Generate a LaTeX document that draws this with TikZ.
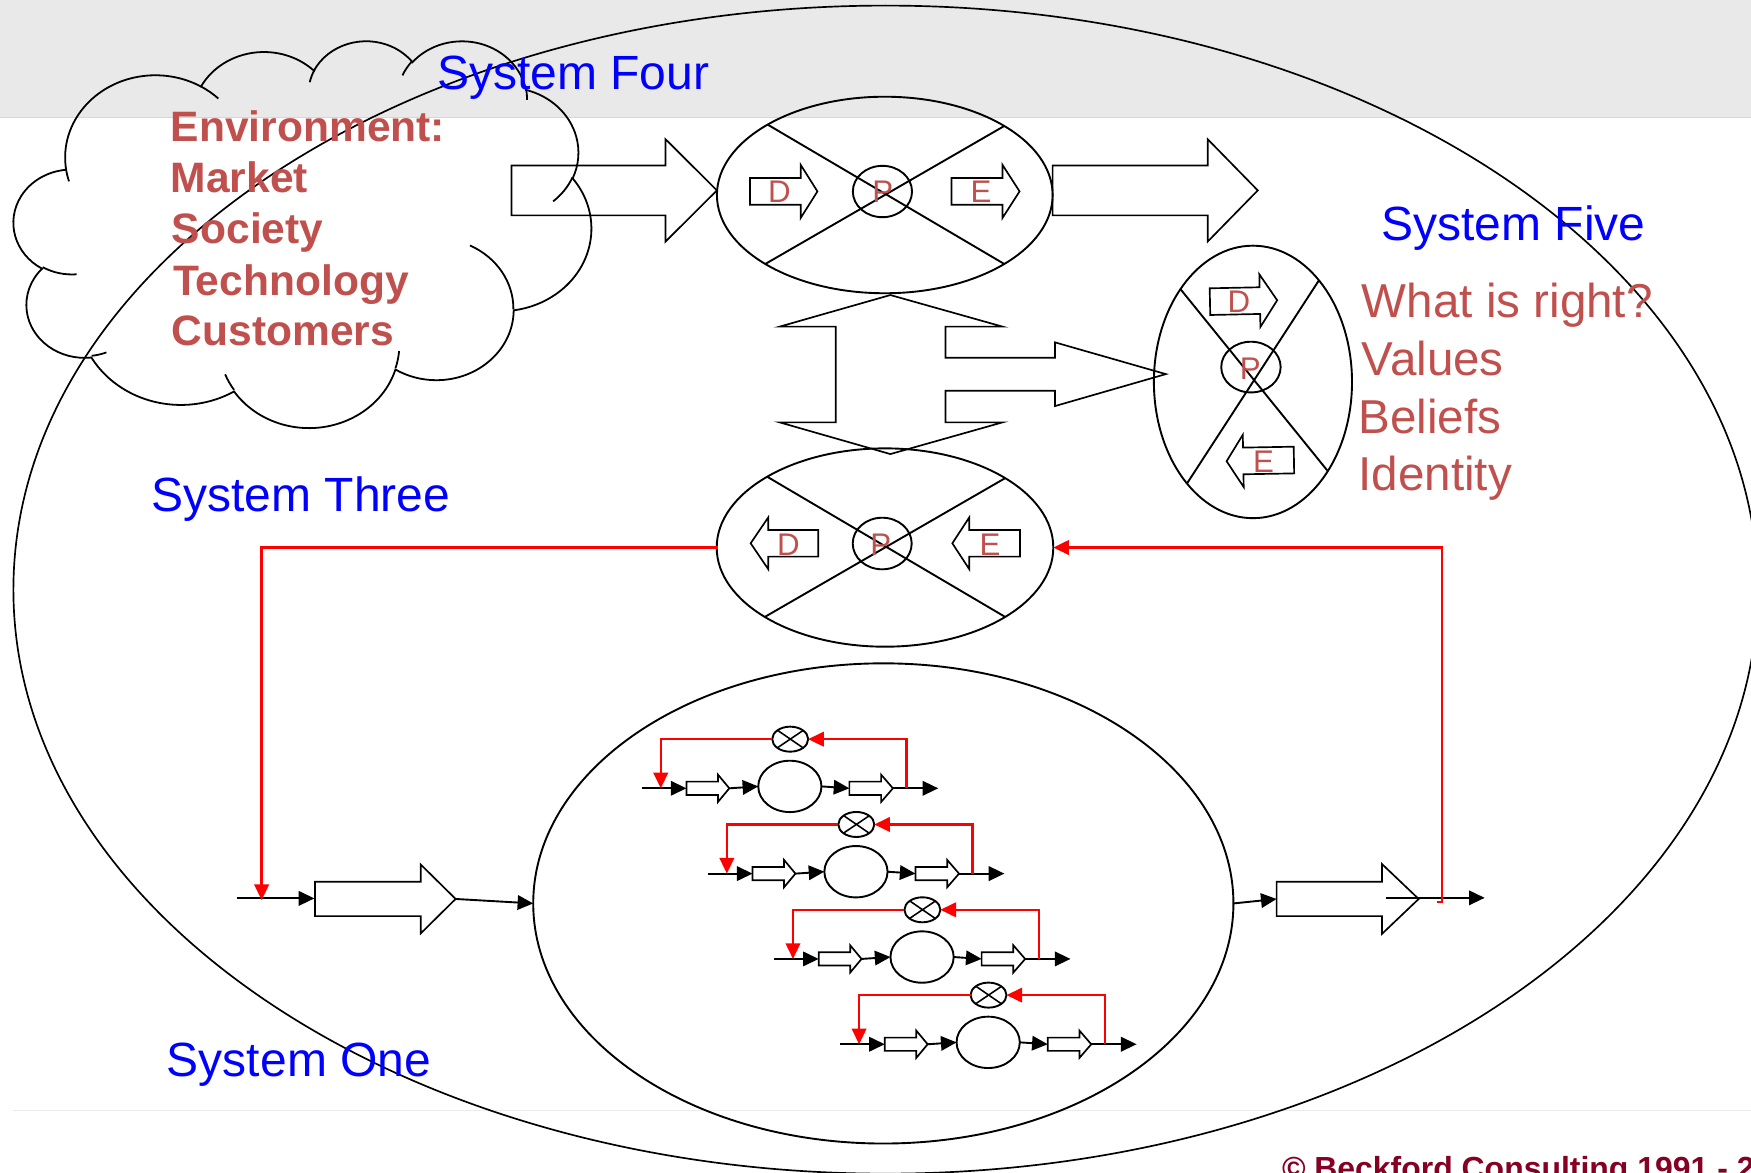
\documentclass[tikz,border=0pt]{standalone}
\usepackage{fontspec}
\setmainfont{Liberation Sans}
\usetikzlibrary{shapes.geometric,arrows.meta}

\definecolor{sysblue}{RGB}{0,0,255}
\definecolor{accent}{RGB}{192,80,77}
\definecolor{loopred}{RGB}{255,0,0}
\definecolor{bandgray}{RGB}{233,233,233}
\definecolor{bandedge}{RGB}{215,215,215}
\definecolor{footgray}{RGB}{236,236,236}
\definecolor{copyred}{RGB}{134,0,36}

% placement of the environment cloud (cloud geometry given on a 432 x 432 grid)
\newcommand\cloudL{12.4}
\newcommand\cloudT{35.8}
\newcommand\cloudW{517}
\newcommand\cloudH{346.3}
\newcommand\cpt[2]{({\cloudL+#1/432*\cloudW},{\cloudT+#2/432*\cloudH})}

% block arrow: [opts] tail x, head-base x, tip x, mid y, body half-height, head half-height
\newcommand\blockarrow[7][]{%
  \draw[blockln,#1] (#2,{#5-#6}) -- (#3,{#5-#6}) -- (#3,{#5-#7}) -- (#4,#5)
    -- (#3,{#5+#7}) -- (#3,{#5+#6}) -- (#2,{#5+#6}) -- cycle;}

\tikzset{
  ln/.style={line width=1.7pt,draw=black},
  blockln/.style={line width=1.5pt,draw=black,line join=miter},
  ell/.style={ellipse,draw=black,line width=1.7pt,inner sep=0pt,outer sep=0pt},
  arw/.style={-{Triangle[length=14pt,width=13pt]}},
  fbline/.style={line width=2.1pt,draw=loopred},
  fbsmall/.style={line width=1.9pt,draw=loopred},
  cloudln/.style={line width=1.6pt,draw=black},
  cloudarc/.style n args={4}{insert path={arc[
      start angle={-atan2(#1*sin(#3),#2*cos(#3))},
      delta angle={-mod(atan2(#1*sin(#3+#4),#2*cos(#3+#4))-atan2(#1*sin(#3),#2*cos(#3))+720,360)},
      x radius={(#1/432*\cloudW)*1pt},
      y radius={(#2/432*\cloudH)*1pt}]}},
  syslabel/.style={inner sep=0pt,outer sep=0pt,anchor=base west,text=sysblue,font=\fontsize{43}{50}\selectfont},
  envtext/.style={inner sep=0pt,outer sep=0pt,anchor=base west,text=accent,font=\bfseries\fontsize{38.1}{45}\selectfont},
  valtext/.style={inner sep=0pt,outer sep=0pt,anchor=base west,text=accent,font=\fontsize{42.6}{50}\selectfont},
  dpe/.style={inner sep=0pt,outer sep=0pt,anchor=base,text=accent,font=\fontsize{28}{32}\selectfont},
  copytext/.style={inner sep=0pt,outer sep=0pt,anchor=base west,text=copyred,font=\bfseries\fontsize{28.6}{34}\selectfont},
}

\begin{document}
\begin{tikzpicture}[x=1pt,y=-1pt]
\useasboundingbox (0,0) rectangle (1568,1050);
\clip (0,0) rectangle (1568,1050);

% header band and footer rule
\fill[bandgray] (0,0) rectangle (1568,105.5);
\draw[bandedge,line width=1pt] (0,105.5) -- (1568,105.5);
\draw[footgray,line width=1.2pt] (11.3,994.6) -- (1568,994.6);

% boundary of the whole system
\node[ell,line width=1.5pt,minimum width=1562pt,minimum height=1046pt] (vsm) at (793,528) {};

% environment cloud
\draw[cloudln] \cpt{39.00}{143.70}
  [cloudarc={67.53}{91.90}{-190.4875}{123.7805}]
  [cloudarc={53.33}{72.67}{-144.1024}{89.9452}]
  [cloudarc={43.65}{59.45}{-145.8079}{99.7230}]
  [cloudarc={48.57}{65.95}{-130.9861}{117.2417}]
  [cloudarc={53.33}{72.73}{-78.7089}{109.0269}]
  [cloudarc={67.75}{92.20}{-46.2673}{130.2690}]
  [cloudarc={57.85}{78.67}{0.6250}{114.0333}]
  [cloudarc={67.52}{92.15}{22.4516}{115.1726}]
  [cloudarc={77.20}{105.43}{66.2426}{75.7110}]
  [cloudarc={43.60}{59.18}{-274.9421}{146.7356}]
  [cloudarc={43.45}{59.45}{-246.8285}{152.5189}]
  -- cycle;
\draw[cloudln]
  \cpt{46.93}{261.77} [cloudarc={43.45}{59.45}{86.7420}{26.4295}]
  \cpt{69.28}{348.99} [cloudarc={43.60}{59.18}{73.6105}{11.4475}]
  \cpt{164.78}{390.90} [cloudarc={67.52}{92.15}{137.6242}{14.0811}]
  \cpt{288.27}{347.51} [cloudarc={67.52}{92.15}{6.4533}{15.9984}]
  \cpt{341.29}{229.54} [cloudarc={57.85}{78.67}{-70.2924}{70.9174}]
  \cpt{417.98}{153.54} [cloudarc={53.33}{72.73}{30.3180}{27.7515}]
  \cpt{383.24}{54.26} [cloudarc={48.57}{65.95}{-13.7443}{14.8589}]
  \cpt{290.78}{39.52} [cloudarc={48.57}{65.95}{-149.1815}{18.1954}]
  \cpt{221.41}{47.20} [cloudarc={43.65}{59.45}{-163.4943}{17.6864}]
  \cpt{140.00}{51.92} [cloudarc={67.53}{91.90}{-66.7070}{12.3194}]
  \cpt{41.27}{157.89} [cloudarc={67.53}{91.90}{157.6544}{11.8582}];

% System Four
\node[ell,minimum width=300.6pt,minimum height=176pt] (s4) at (792.3,174.6) {};
\node[ell,minimum width=53pt,minimum height=46pt] (s4p) at (790.2,171.5) {};
\draw[ln] (s4.30.35) -- (s4.210.35) (s4.149.65) -- (s4.-30.35);
\blockarrow{671.6}{717}{732}{171.4}{11.95}{23.8}
\blockarrow{852}{897.7}{913}{171.4}{11.95}{23.8}
\node[dpe] (s4d) at (698,181.5) {D};
\node[dpe] (s4pt) at (790.6,181.5) {P};
\node[dpe] (s4e) at (878.5,181.5) {E};

% flows into and out of System Four
\blockarrow{458}{596}{642}{170.5}{22.35}{45.8}
\blockarrow{942.6}{1081.5}{1126.3}{170.5}{22.35}{45.8}

% System Three
\node[ell,minimum width=301.4pt,minimum height=177.6pt] (s3) at (792.5,490.3) {};
\node[ell,minimum width=52.8pt,minimum height=46.2pt] (s3p) at (790,486.7) {};
\draw[ln] (s3.30.5) -- (s3.210.5) (s3.149.5) -- (s3.-30.5);
\blockarrow{732.8}{688}{672.2}{486.5}{11.95}{23.25}
\blockarrow{913.4}{868}{852.8}{486.5}{11.95}{23.25}
\node[dpe] (s3d) at (706,497) {D};
\node[dpe] (s3pt) at (788.8,497) {P};
\node[dpe] (s3e) at (886.5,497) {E};

% System Five
\node[ell,minimum width=177.4pt,minimum height=244pt] (s5) at (1122,342) {};
\node[ell,minimum width=53.2pt,minimum height=45.4pt] (s5p) at (1120.2,328.7) {};
\draw[ln] (s5.128.9) -- (s5.-50.8) (s5.57.3) -- (s5.237.9);
\blockarrow[rotate around={1.2:(1113,269.5)}]{1083.5}{1128.2}{1143.7}{269.5}{11.95}{23.6}
\blockarrow[rotate around={1:(1128,412.5)}]{1158.7}{1113.3}{1098.4}{412.5}{11.95}{23.4}
\node[dpe] (s5d) at (1109.4,279.7) {D};
\node[dpe] (s5pt) at (1119.7,339.4) {P};
\node[dpe] (s5e) at (1131.5,423) {E};

% two-way channel between Four and Three, branching to Five
\draw[blockln] (797.3,264.2) -- (897.8,292.5) -- (846.6,292.5) -- (846.6,320.3)
  -- (944.8,320.3) -- (944.8,306.6) -- (1044,335) -- (944.8,363.6) -- (944.8,349.9)
  -- (846.6,349.9) -- (846.6,378.2) -- (897.8,378.2) -- (797.3,406.6) -- (698.1,378.2)
  -- (748.4,378.2) -- (748.4,292.5) -- (698.1,292.5) -- cycle;

% System One
\node[ell,minimum width=627pt,minimum height=430pt] (s1) at (791,809) {};

\coordinate (s1inS) at (212,804.5);
\coordinate (s1inT) at (281.5,804.5);
\coordinate (s1inH) at (408,805);
\coordinate (s1outT) at (1143.2,805);
\coordinate (s1outA) at (1241.4,804);
\coordinate (s1outB) at (1329.5,804);
\blockarrow{282}{376.7}{408}{805}{15.35}{30.9}
\blockarrow{1143.2}{1237.6}{1270.4}{805}{15.35}{31.2}
\draw[ln,arw] (s1inS) -- (s1inT);
\draw[ln,arw] (s1inH) -- (s1.west);
\draw[ln,arw] (s1.east) -- (s1outT);
\draw[ln,arw] (s1outA) -- (s1outB);

% operational units inside System One
\foreach \k in {0,1,2,3} {
  \begin{scope}[shift={(59.2*\k,76.4*\k)}]
    \coordinate (in\k) at (575,705.9);
    \coordinate (aT\k) at (614.7,705.9);
    \coordinate (aH\k) at (653.1,705.9);
    \coordinate (bT\k) at (760.6,705.9);
    \coordinate (bH\k) at (799.6,705.9);
    \coordinate (out\k) at (840.2,705.9);
    \coordinate (fbs\k) at (811.7,705.9);
    \coordinate (fbe\k) at (591.7,705.9);
    \node[ell,minimum width=56.6pt,minimum height=46pt] (c\k) at (707.3,704.2) {};
    \node[ell,minimum width=32.2pt,minimum height=22.4pt] (x\k) at (707.6,661.9) {};
    \draw[ln,line width=1.4pt] (x\k.34.8) -- (x\k.214.8) (x\k.145.2) -- (x\k.-34.8);
    \blockarrow{614.7}{642.9}{653.1}{705.9}{5.95}{12.25}
    \blockarrow{760.6}{789}{799.6}{705.9}{5.95}{12.25}
    \draw[ln,arw] (in\k) -- (aT\k);
    \draw[ln,arw] (aH\k) -- (c\k.west);
    \draw[ln,arw] (c\k.east) -- (bT\k);
    \draw[ln,arw] (bH\k) -- (out\k);
    \draw[fbsmall,arw] (fbs\k) |- (x\k.east);
    \draw[fbsmall,arw] (x\k.west) -| (fbe\k);
  \end{scope}
}

% System Three monitoring loop around System One
\coordinate (s3fbL) at (234.3,806);
\coordinate (s3fbR) at (1287,808);
\draw[fbline,arw] (s3.west) -| (s3fbL);
\draw[fbline,arw] (s3fbR) -- ++(4.3,0) |- (s3.east);

% labels
\node[syslabel] (t4) at (391.5,80.5) {System Four};
\node[syslabel] (t5) at (1237,215.5) {System Five};
\node[syslabel] (t3) at (135.5,458.2) {System Three};
\node[syslabel] (t1) at (149.5,964.2) {System One};

\node[envtext] (e1) at (153,126.9) {Environment:};
\node[envtext] (e2) at (153,172.5) {Market};
\node[envtext] (e3) at (154,217.9) {Society};
\node[envtext] (e4) at (155,264.2) {Technology};
\node[envtext] (e5) at (154,309) {Customers};

\node[valtext] (v1) at (1219.5,284.2) {What is right?};
\node[valtext] (v2) at (1219.5,336.4) {Values};
\node[valtext] (v3) at (1216.5,388) {Beliefs};
\node[valtext] (v4) at (1216.5,439.4) {Identity};

\node[copytext] (cr) at (1148,1056.5) {© Beckford Consulting 1991 - 2};
\end{tikzpicture}
\end{document}
